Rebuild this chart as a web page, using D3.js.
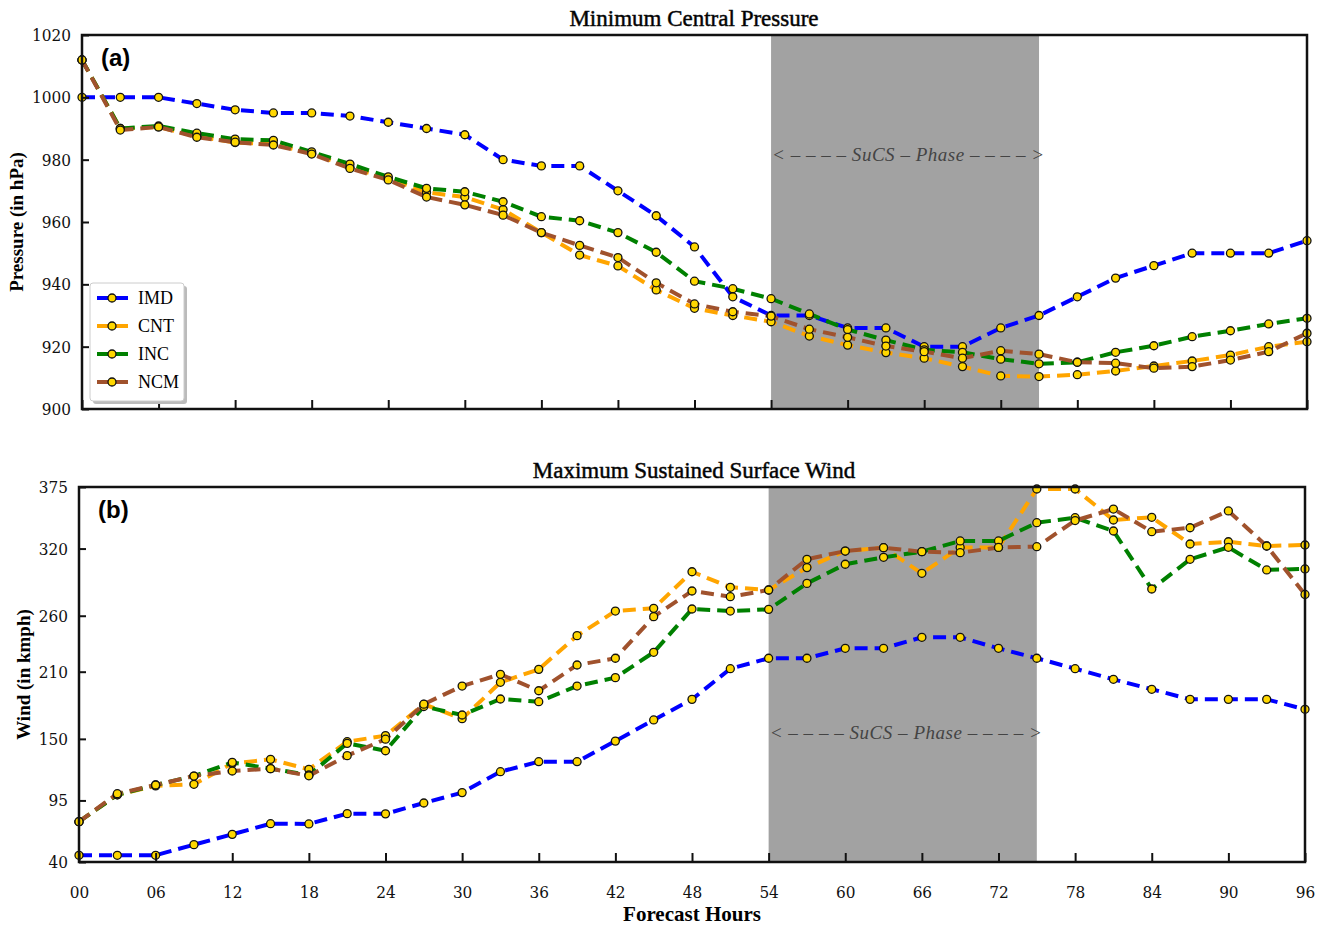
<!DOCTYPE html>
<html>
<head>
<meta charset="utf-8">
<script src="https://cdn.jsdelivr.net/npm/d3@7"></script>
<style>
  body { margin: 0; background: #fff; }
  svg { display: block; }
  .tick-label { font-family: "DejaVu Serif", "Liberation Serif", serif; font-stretch: condensed; font-size: 17px; fill: #111; }
</style>
</head>
<body>
<svg id="chart" width="1323" height="927"></svg>
<script>
'use strict';

// forecast hours (every 3 h)
const hours = [0, 3, 6, 9, 12, 15, 18, 21, 24, 27, 30, 33, 36, 39, 42, 45, 48,
    51, 54, 57, 60, 63, 66, 69, 72, 75, 78, 81, 84, 87, 90, 93, 96];
const hourTicks = ['00', '06', '12', '18', '24', '30', '36', '42', '48', '54', '60', '66', '72', '78', '84', '90', '96'];
const seriesNames = ['IMD', 'CNT', 'INC', 'NCM'];
const sucsPhase = [54, 75];

// (a) minimum central pressure, hPa
const imdPressure = [1000, 1000, 1000, 998, 996, 995, 995, 994, 992, 990, 988, 980, 978, 978, 970, 962, 952,
    936, 930, 930, 926, 926, 920, 920, 926, 930, 936, 942, 946, 950, 950, 950, 954];
const cntPressure = [1012, 990, 990.5, 987.5, 985.5, 985, 982, 977.5, 974, 969.5, 968, 964, 956.6, 949.4, 945.9, 938.2, 932.3,
    930, 928, 923.4, 920.5, 918.1, 916.3, 913.6, 910.6, 910.4, 911, 912.2, 913.8, 915.4, 917.3, 920, 921.6];
const incPressure = [1012, 990, 990.8, 988.5, 986.6, 986.2, 982.5, 978.6, 974.5, 970.8, 969.7, 966.5, 961.7, 960.4, 956.6, 950.3, 941,
    938.6, 935.4, 930.5, 925.5, 922.1, 919, 918.2, 916, 914.5, 915, 918.2, 920.3, 923.2, 925.1, 927.3, 929.1];
const ncmPressure = [1012, 989.5, 990.5, 987.2, 985.6, 984.7, 981.8, 977.2, 973.5, 968, 965.5, 962.2, 956.6, 952.5, 948.6, 940.5, 933.7,
    931.2, 929.8, 925.6, 923, 920.2, 918.4, 916.3, 918.7, 917.6, 915, 914.7, 913.1, 913.6, 915.7, 918.4, 924.3];
const pressureTicks = [900, 920, 940, 960, 980, 1000, 1020];

// (b) maximum sustained surface wind, kmph
const imdWind = [46, 46, 46, 55.5, 64.7, 74.2, 74, 83.2, 83, 92.7, 102, 120.7, 129.6, 129.6, 148, 166.9, 185.3,
    212.7, 222, 222, 230.9, 230.9, 240.7, 240.7, 230.9, 222, 212.7, 203.2, 194.3, 185.3, 185.3, 185.3, 176.4];
const cntWind = [76, 100, 108, 109.4, 128, 131.7, 122.8, 147.5, 152.9, 180.9, 168, 200.5, 212.1, 242.2, 264.2, 266.6, 299.3,
    285.4, 283, 303, 317.8, 320.8, 297.9, 321, 321, 373.2, 373.2, 345.5, 347.9, 324.1, 326.1, 322.3, 323.2];
const incWind = [76, 100, 108.8, 116.8, 129, 123.4, 117.7, 146, 139.4, 178.9, 171.3, 185.6, 183.2, 197.2, 204.7, 227.3, 266,
    264.2, 265.7, 288.9, 306, 312.2, 317.2, 326.8, 326.8, 343.1, 347.6, 335.7, 283.9, 310.4, 321.1, 300.9, 301.8];
const ncmWind = [76, 101, 108.8, 116.8, 121.3, 123.4, 117, 135, 149.7, 181, 197.2, 207.7, 193, 216, 222, 259.2, 282.1,
    277, 283, 310.4, 317.8, 320.8, 317.2, 316.3, 321, 321.7, 345, 355.3, 335.1, 338.6, 353.6, 322.3, 279];
const windTicks = [40, 95, 150, 210, 260, 320, 375];

const colors = { IMD: '#0000ff', CNT: '#ffa500', INC: '#008000', NCM: '#a0522d' };
const svg = d3.select('#chart');

function renderPanel(cfg) {
    const x = d3.scaleLinear().domain([0, 96]).range([cfg.left, cfg.right]);
    const y = d3.scaleLinear().domain(cfg.domain).range([cfg.bottom, cfg.top]);
    const g = svg.append('g');

    g.append('rect')
        .attr('x', x(sucsPhase[0])).attr('y', cfg.top)
        .attr('width', x(sucsPhase[1]) - x(sucsPhase[0]))
        .attr('height', cfg.bottom - cfg.top)
        .attr('fill', '#a2a2a2');

    g.append('text')
        .attr('x', x(sucsPhase[0]) + 1)
        .attr('y', cfg.phaseY)
        .attr('textLength', x(sucsPhase[1]) - x(sucsPhase[0]) + 4)
        .attr('lengthAdjust', 'spacing')
        .attr('font-family', 'Liberation Serif, serif')
        .attr('font-style', 'italic')
        .attr('font-size', 19)
        .attr('fill', '#444')
        .text('< – – – – SuCS – Phase – – – – >');

    const line = d3.line().x((d, i) => x(hours[i])).y(d => y(d));

    cfg.series.forEach(([name, values]) => {
        g.append('path')
            .datum(values)
            .attr('d', line)
            .attr('fill', 'none')
            .attr('stroke', colors[name])
            .attr('stroke-width', 4)
            .attr('stroke-dasharray', '13,7');
    });

    cfg.series.forEach(([name, values]) => {
        g.append('g')
            .selectAll('circle')
            .data(values)
            .join('circle')
            .attr('cx', (d, i) => x(hours[i]))
            .attr('cy', d => y(d))
            .attr('r', 4)
            .attr('fill', '#ffd700')
            .attr('stroke', '#111')
            .attr('stroke-width', 1.3);
    });

    // frame
    g.append('rect')
        .attr('x', cfg.left).attr('y', cfg.top)
        .attr('width', cfg.right - cfg.left).attr('height', cfg.bottom - cfg.top)
        .attr('fill', 'none').attr('stroke', '#111').attr('stroke-width', 2.5);

    // inward ticks on the bottom axis
    const xAxis = d3.axisTop(x)
        .tickValues(hourTicks.map(Number))
        .tickSize(9)
        .tickFormat((d, i) => cfg.showXLabels ? hourTicks[i] : '');
    const gx = g.append('g')
        .attr('transform', `translate(0, ${cfg.bottom})`)
        .call(xAxis)
        .call(s => s.select('.domain').remove())
        .call(s => s.selectAll('.tick line').attr('stroke', '#111').attr('stroke-width', 2));
    gx.selectAll('.tick text')
        .attr('class', 'tick-label')
        .attr('y', 24)
        .attr('dy', '0.71em');

    // inward ticks on the left axis, labels outside
    const yAxis = d3.axisRight(y).tickValues(cfg.ticks).tickSize(7).tickFormat(d3.format('d'));
    g.append('g')
        .attr('transform', `translate(${cfg.left}, 0)`)
        .call(yAxis)
        .call(s => s.select('.domain').remove())
        .call(s => s.selectAll('.tick line').attr('stroke', '#111').attr('stroke-width', 2))
        .call(s => s.selectAll('.tick text')
            .attr('class', 'tick-label')
            .attr('x', -11)
            .attr('text-anchor', 'end'));

    g.append('text')
        .attr('x', cfg.left + 19)
        .attr('y', cfg.top + 31)
        .attr('font-family', 'Liberation Sans, Arial, sans-serif')
        .attr('font-weight', 'bold')
        .attr('font-size', 24)
        .text(cfg.tag);

    g.append('text')
        .attr('x', 694)
        .attr('y', cfg.top - 9)
        .attr('text-anchor', 'middle')
        .attr('font-family', 'Liberation Serif, serif')
        .attr('font-size', 23)
        .attr('stroke', '#111')
        .attr('stroke-width', 0.5)
        .text(cfg.title);

    g.append('text')
        .attr('transform', `translate(${cfg.yLabelX}, ${(cfg.top + cfg.bottom) / 2}) rotate(-90)`)
        .attr('text-anchor', 'middle')
        .attr('font-family', 'Liberation Serif, serif')
        .attr('font-weight', 'bold')
        .attr('font-size', 19)
        .text(cfg.yLabel);

    return x;
}

renderPanel({
    left: 82, right: 1307, top: 35, bottom: 409,
    domain: [900, 1020], ticks: pressureTicks,
    series: [['IMD', imdPressure], ['CNT', cntPressure], ['INC', incPressure], ['NCM', ncmPressure]],
    title: 'Minimum Central Pressure', tag: '(a)', yLabel: 'Pressure (in hPa)', yLabelX: 23,
    phaseY: 161, showXLabels: false
});

renderPanel({
    left: 79, right: 1305, top: 487, bottom: 862,
    domain: [40, 375], ticks: windTicks,
    series: [['IMD', imdWind], ['CNT', cntWind], ['INC', incWind], ['NCM', ncmWind]],
    title: 'Maximum Sustained Surface Wind', tag: '(b)', yLabel: 'Wind (in kmph)', yLabelX: 30,
    phaseY: 739, showXLabels: true
});

svg.append('text')
    .attr('x', 692).attr('y', 921)
    .attr('text-anchor', 'middle')
    .attr('font-family', 'Liberation Serif, serif')
    .attr('font-weight', 'bold')
    .attr('font-size', 21)
    .text('Forecast Hours');

// legend
const legend = svg.append('g').attr('transform', 'translate(90, 283)');
legend.append('rect')
    .attr('x', 3).attr('y', 3).attr('width', 94).attr('height', 118).attr('rx', 3)
    .attr('fill', '#bbb');
legend.append('rect')
    .attr('width', 94).attr('height', 118).attr('rx', 3)
    .attr('fill', '#fff').attr('stroke', '#ccc');
seriesNames.forEach((name, i) => {
    const row = legend.append('g').attr('transform', `translate(0, ${15 + i * 28})`);
    row.append('line')
        .attr('x1', 7).attr('x2', 38)
        .attr('stroke', colors[name]).attr('stroke-width', 4);
    row.append('circle')
        .attr('cx', 22).attr('r', 4)
        .attr('fill', '#ffd700').attr('stroke', '#111').attr('stroke-width', 1.3);
    row.append('text')
        .attr('x', 48).attr('dy', '0.35em')
        .attr('font-family', 'Liberation Serif, serif')
        .attr('font-size', 18)
        .text(name);
});
</script>
</body>
</html>
